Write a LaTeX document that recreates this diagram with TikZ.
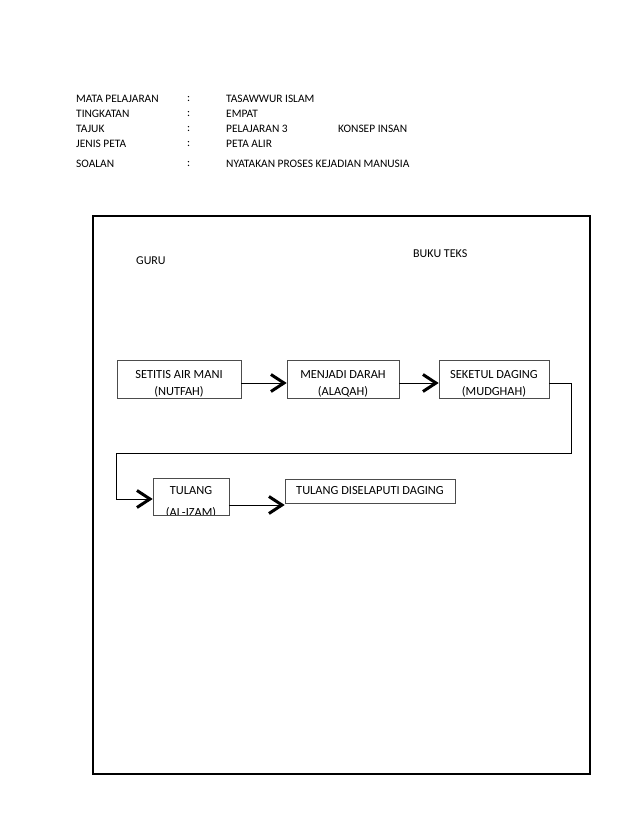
\documentclass[tikz,border=0pt]{standalone}
\usepackage{fontspec}
\setmainfont{Carlito}
\usetikzlibrary{arrows.meta}
\begin{document}
\begin{tikzpicture}[x=1pt,y=-1pt,
  hdr/.style={anchor=west,inner sep=0pt,font=\fontsize{11.4}{13}\selectfont},
  lbl/.style={anchor=west,inner sep=0pt,font=\fontsize{12}{14}\selectfont},
  stepbox/.style={draw=black!70,line width=0.6pt,inner sep=0pt},
  boxtxt/.style={align=center,inner sep=0pt,font=\fontsize{12.4}{#1}\selectfont},
  tbox/.style n args={3}{stepbox,
    path picture={\node[boxtxt=#2] at ([yshift=#1]path picture bounding box.center) {#3};}},
  flow/.style={line width=0.8pt,-{Straight Barb[length=13pt,width=17pt,line width=3pt]}},
  plain/.style={line width=0.8pt}]
\useasboundingbox (0,0) rectangle (638,826);
% header
\node[hdr] (h1) at (76,99) {MATA PELAJARAN};
\node[hdr] (h2) at (76,114) {TINGKATAN};
\node[hdr] (h3) at (76,129) {TAJUK};
\node[hdr] (h4) at (76,144) {JENIS PETA};
\node[hdr] (h5) at (76,164) {SOALAN};
\foreach \y/\n in {99/c1,114/c2,129/c3,144/c4,164/c5}{\node[hdr] (\n) at (187,\y) {:};}
\node[hdr] (v1) at (226,99) {TASAWWUR ISLAM};
\node[hdr] (v2) at (226,114) {EMPAT};
\node[hdr] (v3) at (226,129) {PELAJARAN 3};
\node[hdr] (v3b) at (338,129) {KONSEP INSAN};
\node[hdr] (v4) at (226,144) {PETA ALIR};
\node[hdr] (v5) at (226,164) {NYATAKAN PROSES KEJADIAN MANUSIA};
% frame
\draw[line width=1.6pt] (93,216) rectangle (590,774);
\node[lbl] (guru) at (136,261) {GURU};
\node[lbl] (buku) at (413,254) {BUKU TEKS};
% boxes
\node[tbox={-4.5pt}{17}{SETITIS AIR MANI\\(NUTFAH)},minimum width=124pt,minimum height=38pt] (b1) at (179,379) {};
\node[tbox={-4.5pt}{17}{MENJADI DARAH\\(ALAQAH)},minimum width=112pt,minimum height=38pt] (b2) at (343,379) {};
\node[tbox={-4.5pt}{17}{SEKETUL DAGING\\(MUDGHAH)},minimum width=110pt,minimum height=38pt] (b3) at (494,379) {};
\node[tbox={-6pt}{22}{TULANG\\(AL-IZAM)},minimum width=76pt,minimum height=37pt] (b4) at (191,496.5) {};
\node[tbox={0pt}{16}{TULANG DISELAPUTI DAGING},minimum width=170pt,minimum height=24pt] (b5) at (370,491) {};
% connectors
\draw[flow] (b1.east |- 0,383) -- (b2.west |- 0,383);
\draw[flow] (b2.east |- 0,383) -- (b3.west |- 0,383);
\coordinate (k1) at (571,383);
\coordinate (k2) at (571,453);
\coordinate (k3) at (116,453);
\coordinate (k4) at (116,499);
\draw[plain] (b3.east |- 0,383) -- (k1) -- (k2) -- (k3) -- (k4);
\draw[flow] (k4) -- (b4.west |- k4);
\draw[flow] (b4.east |- 0,505) -- (b5.west |- 0,505);
\end{tikzpicture}
\end{document}
